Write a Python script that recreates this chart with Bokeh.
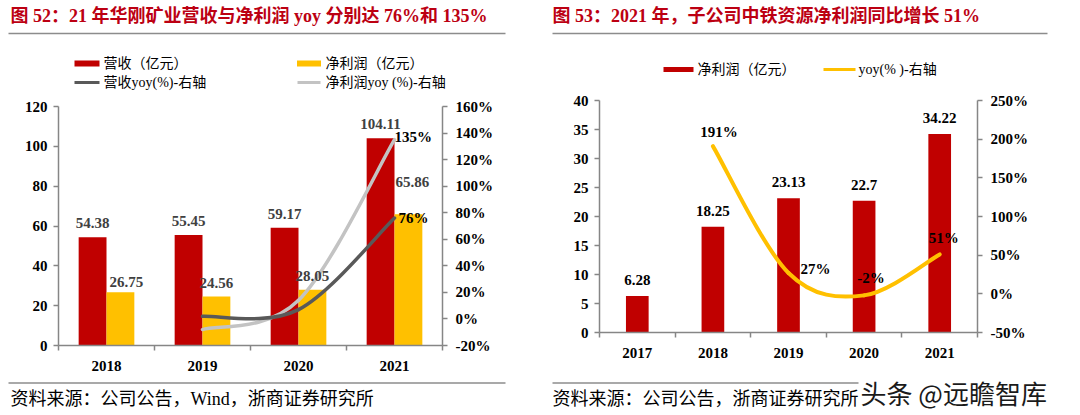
from bokeh.plotting import figure
from bokeh.models import Range1d, LinearAxis, FixedTicker, ColumnDataSource, Spacer
from bokeh.layouts import row, column
from bokeh.embed import file_html
from bokeh.resources import INLINE
from bokeh.core.properties import value

# ---------------- data: left chart ----------------
years_l = ["2018", "2019", "2020", "2021"]
revenue = [54.38, 55.45, 59.17, 104.11]          # 营收（亿元）
net_profit = [26.75, 24.56, 28.05, 65.86]        # 净利润（亿元）
yoy_years_l = ["2019", "2020", "2021"]
revenue_yoy = [2, 7, 76]                          # 营收yoy(%)
profit_yoy = [-8, 14, 135]                        # 净利润yoy(%)
left_ticks_l = [0, 20, 40, 60, 80, 100, 120]
right_ticks_l = [-20, 0, 20, 40, 60, 80, 100, 120, 140, 160]

# ---------------- data: right chart ----------------
years_r = ["2017", "2018", "2019", "2020", "2021"]
sub_profit = [6.28, 18.25, 23.13, 22.7, 34.22]    # 净利润（亿元）
yoy_years_r = ["2018", "2019", "2020", "2021"]
sub_yoy = [191, 27, -2, 51]                       # yoy(%)
left_ticks_r = [0, 5, 10, 15, 20, 25, 30, 35, 40]
right_ticks_r = [-50, 0, 50, 100, 150, 200, 250]

title_l = "图 52：21 年华刚矿业营收与净利润 yoy 分别达 76%和 135%"
title_r = "图 53：2021 年，子公司中铁资源净利润同比增长 51%"
legend_l = ["营收（亿元）", "净利润（亿元）", "营收yoy(%)-右轴", "净利润yoy (%)-右轴"]
legend_r = ["净利润（亿元）", "yoy(% )-右轴"]
source_l = "资料来源：公司公告，Wind，浙商证券研究所"
source_r = "资料来源：公司公告，浙商证券研究所"
watermark = "头条 @远瞻智库"

# ---------------- styles ----------------
SERIF = "Liberation Serif"
MIX = "Liberation Serif, Noto Sans CJK SC"
TITLE_RED = "#BC0012"
RED = "#C00000"
YELLOW = "#FFC000"
DARK = "#595959"
LIGHT = "#C3C3C3"
AX_GREY = "#868686"
RULE_GREY = "#8C8C8C"

HEAD_H = 91
FOOT_H = 41
TOP_B, BOT_B = 9, 27


def catmull(xs, ys):
    """cubic bezier segments of a smoothed line through (xs, ys)"""
    n = len(xs)
    out = {k: [] for k in ("x0", "y0", "x1", "y1", "cx0", "cy0", "cx1", "cy1")}
    for i in range(n - 1):
        xp, yp = (xs[i - 1], ys[i - 1]) if i > 0 else (xs[i], ys[i])
        xn, yn = (xs[i + 2], ys[i + 2]) if i + 2 < n else (xs[i + 1], ys[i + 1])
        out["x0"].append(xs[i]); out["y0"].append(ys[i])
        out["x1"].append(xs[i + 1]); out["y1"].append(ys[i + 1])
        out["cx0"].append(xs[i] + (xs[i + 1] - xp) / 6.0)
        out["cy0"].append(ys[i] + (ys[i + 1] - yp) / 6.0)
        out["cx1"].append(xs[i + 1] - (xn - xs[i]) / 6.0)
        out["cy1"].append(ys[i + 1] - (yn - ys[i]) / 6.0)
    return out


def style_axis(ax, ticks, overrides=None, standoff=6):
    ax.ticker = FixedTicker(ticks=ticks)
    if overrides:
        ax.major_label_overrides = overrides
    ax.axis_line_color = AX_GREY
    ax.axis_line_width = 1.5
    ax.major_tick_line_color = AX_GREY
    ax.major_tick_line_width = 1.5
    ax.major_tick_out = 5
    ax.major_tick_in = 0
    ax.minor_tick_line_color = None
    ax.major_label_text_font = SERIF
    ax.major_label_text_font_style = "bold"
    ax.major_label_text_font_size = "15px"
    ax.major_label_text_color = "#000000"
    ax.major_label_standoff = standoff


def base_fig(n, ymax, rmin, rmax, years, lticks, rticks, width, height, bl, br):
    p = figure(width=width, height=height, output_backend="svg", toolbar_location=None,
               x_range=Range1d(-0.5, n - 0.5), y_range=Range1d(0, ymax),
               min_border_left=bl, min_border_right=br,
               min_border_top=TOP_B, min_border_bottom=BOT_B,
               x_axis_location=None, y_axis_location=None)
    p.extra_y_ranges = {"right": Range1d(rmin, rmax)}
    p.grid.visible = False
    p.outline_line_color = None
    p.background_fill_color = "white"
    p.border_fill_color = "white"

    xa = LinearAxis()
    style_axis(xa, list(range(n)), {i: y for i, y in enumerate(years)}, standoff=10)
    xa.ticker = FixedTicker(ticks=list(range(n)), minor_ticks=[i - 0.5 for i in range(n + 1)])
    xa.major_tick_out = 0
    xa.minor_tick_line_color = AX_GREY
    xa.minor_tick_line_width = 1.5
    xa.minor_tick_out = 5
    xa.minor_tick_in = 0
    p.add_layout(xa, "below")

    ya = LinearAxis()
    style_axis(ya, lticks, standoff=6)
    p.add_layout(ya, "left")

    ra = LinearAxis(y_range_name="right")
    style_axis(ra, rticks, {v: f"{v}%" for v in rticks}, standoff=8)
    p.add_layout(ra, "right")
    return p


def plain_fig(width, height):
    p = figure(width=width, height=height, output_backend="svg", toolbar_location=None,
               x_range=Range1d(0, width), y_range=Range1d(height, 0),
               min_border=0, x_axis_location=None, y_axis_location=None)
    p.grid.visible = False
    p.outline_line_color = None
    p.background_fill_color = "white"
    p.border_fill_color = "white"
    return p


lab_font = value(SERIF)
mix_font = value(MIX)

# ================= left chart =================
# page frame: x 58..442, y 106..346
P1_TOP = HEAD_H + 6
p1 = base_fig(4, 120, -20, 160, years_l, left_ticks_l, right_ticks_l,
              540, 346 - P1_TOP + BOT_B, 58, 98)
idx_l = list(range(len(years_l)))
xr = [i - 0.145 for i in idx_l]
xy = [i + 0.145 for i in idx_l]
p1.vbar(x=xr, top=revenue, width=0.29, fill_color=RED, line_color=None)
p1.vbar(x=xy, top=net_profit, width=0.29, fill_color=YELLOW, line_color=None)

xyoy_l = [years_l.index(y) for y in yoy_years_l]
for vals, col in ((profit_yoy, LIGHT), (revenue_yoy, DARK)):
    p1.bezier(source=ColumnDataSource(catmull(xyoy_l, vals)), x0="x0", y0="y0",
              x1="x1", y1="y1", cx0="cx0", cy0="cy0", cx1="cx1", cy1="cy1",
              line_color=col, line_width=3.5, line_cap="round", y_range_name="right")

p1.text(x=xr, y=revenue, text=[f"{v}" for v in revenue], text_font=lab_font,
        text_font_size="15px", text_font_style="bold", text_color="#404040",
        text_align="center", text_baseline="middle", y_offset=-14)
p1.text(x=xy, y=net_profit, text=[f"{v}" for v in net_profit], text_font=lab_font,
        text_font_size="15px", text_font_style="bold", text_color="#404040",
        text_align="center", text_baseline="middle",
        x_offset=[6, 0, 0, 4], y_offset=[-10, -14, -14, -32])
p1.text(x=[xyoy_l[-1], xyoy_l[-1]], y=[profit_yoy[-1], revenue_yoy[-1]],
        text=[f"{profit_yoy[-1]}%", f"{revenue_yoy[-1]}%"], text_font=lab_font,
        text_font_size="15px", text_font_style="bold", text_color="#000000",
        text_align="left", text_baseline="middle", x_offset=[0, 4], y_offset=[-3, 0],
        y_range_name="right")

# ================= right chart =================
# page frame: x 599..977, y 100..333
p2 = base_fig(5, 40, -50, 250, years_r, left_ticks_r, right_ticks_r,
              540, 333 - HEAD_H + BOT_B, 59, 103)
idx_r = list(range(len(years_r)))
p2.vbar(x=idx_r, top=sub_profit, width=0.3, fill_color=RED, line_color=None)
xyoy_r = [years_r.index(y) for y in yoy_years_r]
p2.bezier(source=ColumnDataSource(catmull(xyoy_r, sub_yoy)), x0="x0", y0="y0",
          x1="x1", y1="y1", cx0="cx0", cy0="cy0", cx1="cx1", cy1="cy1",
          line_color=YELLOW, line_width=4, line_cap="round", y_range_name="right")
p2.text(x=idx_r, y=sub_profit, text=[f"{v}" for v in sub_profit], text_font=lab_font,
        text_font_size="15px", text_font_style="bold", text_color="#000000",
        text_align="center", text_baseline="middle", y_offset=-16)
p2.text(x=xyoy_r, y=sub_yoy, text=[f"{v}%" for v in sub_yoy], text_font=lab_font,
        text_font_size="15px", text_font_style="bold", text_color="#000000",
        text_align="center", text_baseline="middle",
        x_offset=[6, 27, 7, 4], y_offset=[-14, -4, -17, -16], y_range_name="right")

# ================= header (titles, rules, legends) =================
hd = plain_fig(1080, HEAD_H)
hd.text(x=[10, 552], y=[15, 15], text=[title_l, title_r], text_font=mix_font,
        text_font_size="18px", text_font_style="bold", text_color=TITLE_RED,
        text_align="left", text_baseline="middle")
hd.segment(x0=[8, 552], y0=[33, 33], x1=[505, 1047], y1=[33, 33],
           line_color=RULE_GREY, line_width=1.6)
# legend keys
hd.rect(x=[86.5, 308.5, 678], y=[63, 63, 69], width=[25, 24, 30], height=[6, 6, 5],
        fill_color=[RED, YELLOW, RED], line_color=None)
hd.segment(x0=[74, 297, 823], y0=[82, 82, 69], x1=[99, 320, 855], y1=[82, 82, 69],
           line_color=[DARK, LIGHT, YELLOW], line_width=[3, 3, 3])
hd.text(x=[103, 325, 103, 325, 697, 858], y=[63, 63, 81.5, 81.5, 69, 69],
        text=legend_l + legend_r, text_font=mix_font, text_font_size="14px",
        text_color="#000000", text_align="left", text_baseline="middle")

# ================= footer (rules, sources, watermark) =================
FOOT_TOP = 346 + BOT_B
ft = plain_fig(1080, FOOT_H)
ft.segment(x0=[8, 552], y0=[382.5 - FOOT_TOP] * 2, x1=[505, 858], y1=[382.5 - FOOT_TOP] * 2,
           line_color=RULE_GREY, line_width=1.6)
ft.text(x=[10, 552], y=[398 - FOOT_TOP] * 2, text=[source_l, source_r], text_font=mix_font,
        text_font_size="18px", text_color="#000000", text_align="left",
        text_baseline="middle")
ft.text(x=[860], y=[392 - FOOT_TOP], text=[watermark], text_font=value("Noto Sans CJK SC"),
        text_font_size="26px", text_color="#1a1a1a", text_align="left",
        text_baseline="middle")

layout = column(hd, row(column(Spacer(width=540, height=6), p1), p2), ft)
open("out.html", "w").write(file_html(layout, INLINE))
